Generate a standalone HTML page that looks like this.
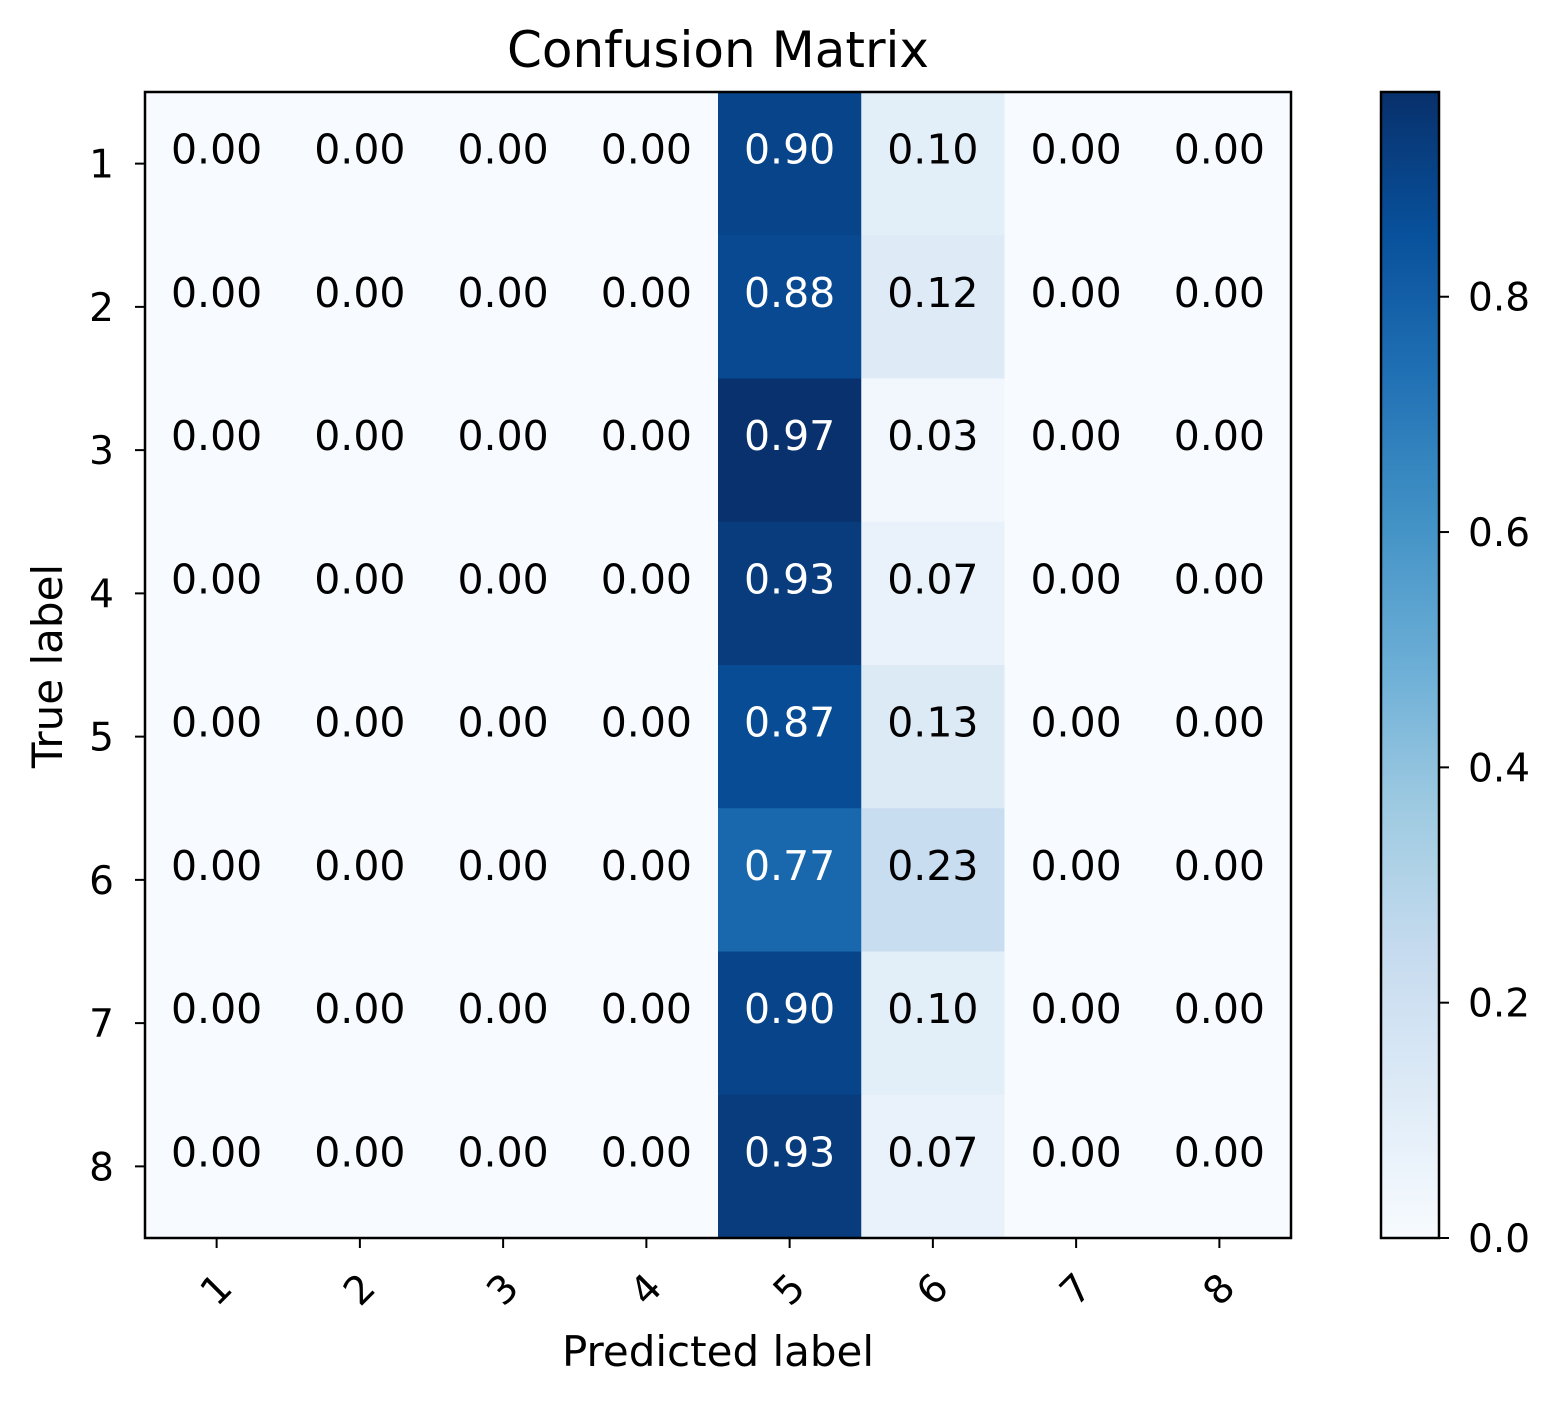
<!DOCTYPE html>
<html><head><meta charset="utf-8"><style>
html,body{margin:0;padding:0;background:#fff;}
svg text{font-family:"DejaVu Sans","Liberation Sans",sans-serif;}
</style></head><body>
<svg id="chart" width="1563" height="1405" viewBox="0 0 1563 1405" xmlns="http://www.w3.org/2000/svg">
<defs><linearGradient id="cbg" x1="0" y1="1" x2="0" y2="0"></linearGradient></defs>
</svg>
<script>
const rowLabels = ["1","2","3","4","5","6","7","8"];
const colLabels = ["1","2","3","4","5","6","7","8"];
const col5 = [0.90,0.88,0.97,0.93,0.87,0.77,0.90,0.93];
const col6 = [0.10,0.12,0.03,0.07,0.13,0.23,0.10,0.07];
const cbTicks = [0.0,0.2,0.4,0.6,0.8];
const vmax = 0.974;

const NS="http://www.w3.org/2000/svg";
const svg=document.getElementById('chart');
function mk(t,a,p){const e=document.createElementNS(NS,t);for(const k in a)e.setAttribute(k,a[k]);(p||svg).appendChild(e);return e;}
const stops=[[0,[247,251,255]],[0.125,[222,235,247]],[0.25,[198,219,239]],[0.375,[158,202,225]],[0.5,[107,174,214]],[0.625,[66,146,198]],[0.75,[33,113,181]],[0.875,[8,81,156]],[1,[8,48,107]]];
function blues(t){t=Math.max(0,Math.min(1,t));for(let i=1;i<stops.length;i++){if(t<=stops[i][0]){const a=stops[i-1],b=stops[i];const f=(t-a[0])/(b[0]-a[0]);const c=a[1].map((v,j)=>Math.round(v+(b[1][j]-v)*f));return `rgb(${c.join(',')})`;}}return 'rgb(8,48,107)';}
const X0=145,Y0=92,W=1146,H=1146;
const n=rowLabels.length, cw=W/n, ch=H/n;
const xc=j=>X0+cw*(j+0.5), yc=i=>Y0+ch*(i+0.5);
const matrix=rowLabels.map((r,i)=>colLabels.map((c,j)=>j===4?col5[i]:(j===5?col6[i]:0)));

mk('text',{x:718,y:67,'font-size':50,'text-anchor':'middle',}).textContent='Confusion Matrix';
const g=mk('g',{});
matrix.forEach((row,i)=>row.forEach((v,j)=>{
  const r=mk('rect',{x:X0+cw*j,y:Y0+ch*i,width:cw+0.5,height:ch+0.5,fill:blues(v/vmax)},g);
  
  
}));
matrix.forEach((row,i)=>row.forEach((v,j)=>{
  const t=mk('text',{x:xc(j),y:yc(i)-14,'font-size':41,'text-anchor':'middle','dominant-baseline':'central',fill:v>vmax/2?'#fff':'#000'});
  
  
  t.textContent=v.toFixed(2);
}));
mk('rect',{x:X0,y:Y0,width:W,height:H,fill:'none',stroke:'#000','stroke-width':2.5,});
rowLabels.forEach((l,i)=>{
  mk('line',{x1:X0-10,x2:X0,y1:yc(i),y2:yc(i),stroke:'#000','stroke-width':2});
  const t=mk('text',{x:X0-31,y:yc(i)+14,'font-size':39,'text-anchor':'end'});
  
  
  t.textContent=l;
});
colLabels.forEach((l,j)=>{
  mk('line',{x1:xc(j),x2:xc(j),y1:Y0+H,y2:Y0+H+10,stroke:'#000','stroke-width':2});
  const t=mk('text',{x:0,y:0,'font-size':39,'text-anchor':'middle',transform:`translate(${xc(j)},${Y0+H+52}) rotate(-45)`,'dominant-baseline':'central'});
  
  
  t.textContent=l;
});
mk('text',{x:718,y:1366,'font-size':42,'text-anchor':'middle',}).textContent='Predicted label';
mk('text',{x:0,y:0,'font-size':42,'text-anchor':'middle',transform:'translate(62,666) rotate(-90)',}).textContent='True label';
const grad=document.getElementById('cbg');
for(let k=0;k<=16;k++){mk('stop',{offset:k/16,'stop-color':blues(k/16)},grad);}
const CX=1381,CW=58,CY0=92,CH=1146;
mk('rect',{x:CX,y:CY0,width:CW,height:CH,fill:'url(#cbg)',stroke:'#000','stroke-width':2.5,});
const cy=v=>CY0+CH-v/vmax*CH;
cbTicks.forEach(v=>{
  mk('line',{x1:CX+CW,x2:CX+CW+10,y1:cy(v),y2:cy(v),stroke:'#000','stroke-width':2});
  const t=mk('text',{x:CX+CW+29,y:cy(v)+14,'font-size':39});
  
  
  t.textContent=v.toFixed(1);
});
</script>
</body></html>
